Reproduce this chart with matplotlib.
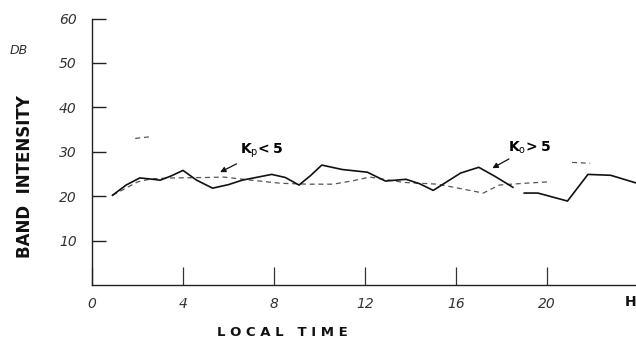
import numpy as np
import matplotlib
matplotlib.use("Agg")
import matplotlib.pyplot as plt

# ---- data ----
kp_high_hours = [0.9, 1.5, 2.1, 2.5, 3.0, 3.5, 4.0, 4.6, 5.3, 6.0, 6.6, 7.9, 8.5, 9.1,
                 9.6, 10.1, 11.0, 12.1, 12.9, 13.8, 14.4, 15.0, 16.2, 17.0, 17.7, 18.5,
                 np.nan, 19.0, 19.6, 20.9, 21.8, 22.3, 22.8, 23.9]
kp_high_db = [20.2, 22.5, 24.1, 23.9, 23.6, 24.6, 25.8, 23.6, 21.8, 22.6, 23.6, 24.9, 24.2, 22.5,
              24.6, 27.0, 26.0, 25.4, 23.4, 23.8, 22.8, 21.3, 25.2, 26.5, 24.5, 22.0,
              np.nan, 20.7, 20.7, 18.9, 24.9, 24.8, 24.7, 23.0]

kp_low_hours = [0.9, 2.0, 2.6, 3.5, 5.0, 5.8, 7.0, 8.3, 9.5, 10.6, 11.5, 12.2, 13.7, 15.2,
                16.2, 17.2, 17.9, 19.0, 20.0, np.nan, 21.1, 21.9, np.nan, 1.9, 2.6]
kp_low_db = [20.2, 23.2, 23.9, 24.1, 24.2, 24.3, 23.6, 22.9, 22.7, 22.7, 23.5, 24.3, 23.1, 22.7,
             21.7, 20.7, 22.5, 22.9, 23.2, np.nan, 27.6, 27.4, np.nan, 33.0, 33.4]

x_ticks = [0, 4, 8, 12, 16, 20]
y_ticks = [10, 20, 30, 40, 50, 60]

# ---- figure ----
W, H = 636, 339
fig = plt.figure(figsize=(W / 100, H / 100), dpi=100)
fig.patch.set_facecolor("white")
ax = fig.add_axes([92 / W, 1 - 285 / H, (636 - 92) / W, (285 - 18.5) / H])

ax.plot(kp_low_hours, kp_low_db, color="#555555", lw=0.9, ls=(0, (4, 3)))
ax.plot(kp_high_hours, kp_high_db, color="#111111", lw=1.2)

ax.set_xlim(0, (636 - 92) / 22.75)
ax.set_ylim(0, 60)
for s in ["top", "right"]:
    ax.spines[s].set_visible(False)
for s in ["left", "bottom"]:
    ax.spines[s].set_color("#222222")
    ax.spines[s].set_linewidth(1.0)

ax.set_xticks(x_ticks)
ax.set_yticks(y_ticks)
tick_font = dict(family="DejaVu Sans", style="italic", size=10, color="#333333")
ax.set_xticklabels([str(v) for v in x_ticks], **tick_font)
ax.set_yticklabels([str(v) for v in y_ticks], **tick_font)
ax.tick_params(axis="y", direction="in", length=10, width=1.0, pad=11, color="#222222")
ax.tick_params(axis="x", direction="in", length=13, width=0.9, pad=9, color="#333333")

# axis texts
fig.text(25 / W, 1 - 177 / H, "BAND  INTENSITY", rotation=90, ha="center", va="center",
         fontsize=12, fontweight="bold", family="DejaVu Sans", color="#111111")
fig.text(282 / W, 1 - 332 / H, "L O C A L   T I M E", ha="center", va="center",
         fontsize=9.5, fontweight="bold", family="DejaVu Sans", color="#111111")
fig.text(631 / W, 1 - 302 / H, "H", ha="center", va="center",
         fontsize=10, fontweight="bold", family="DejaVu Sans", color="#111111")
fig.text(19 / W, 1 - 50 / H, "DB", ha="center", va="center",
         fontsize=9, style="italic", family="DejaVu Sans", color="#333333")

# annotations
ax.annotate(r"$\mathbf{K}_{\mathrm{p}}\!\mathbf{<5}$", xy=(5.63, 25.4), xytext=(6.5, 30.1),
            ha="left", va="center", fontsize=10,
            arrowprops=dict(arrowstyle="-|>", color="#111111", lw=0.9, mutation_scale=8,
                            shrinkA=1, shrinkB=0))
ax.annotate(r"$\mathbf{K}_{\mathrm{o}}\!\mathbf{>5}$", xy=(17.6, 26.3), xytext=(18.3, 31.0),
            ha="left", va="center", fontsize=10,
            arrowprops=dict(arrowstyle="-|>", color="#111111", lw=0.9, mutation_scale=8,
                            shrinkA=1, shrinkB=0))

fig.savefig("out.png", dpi=100)
